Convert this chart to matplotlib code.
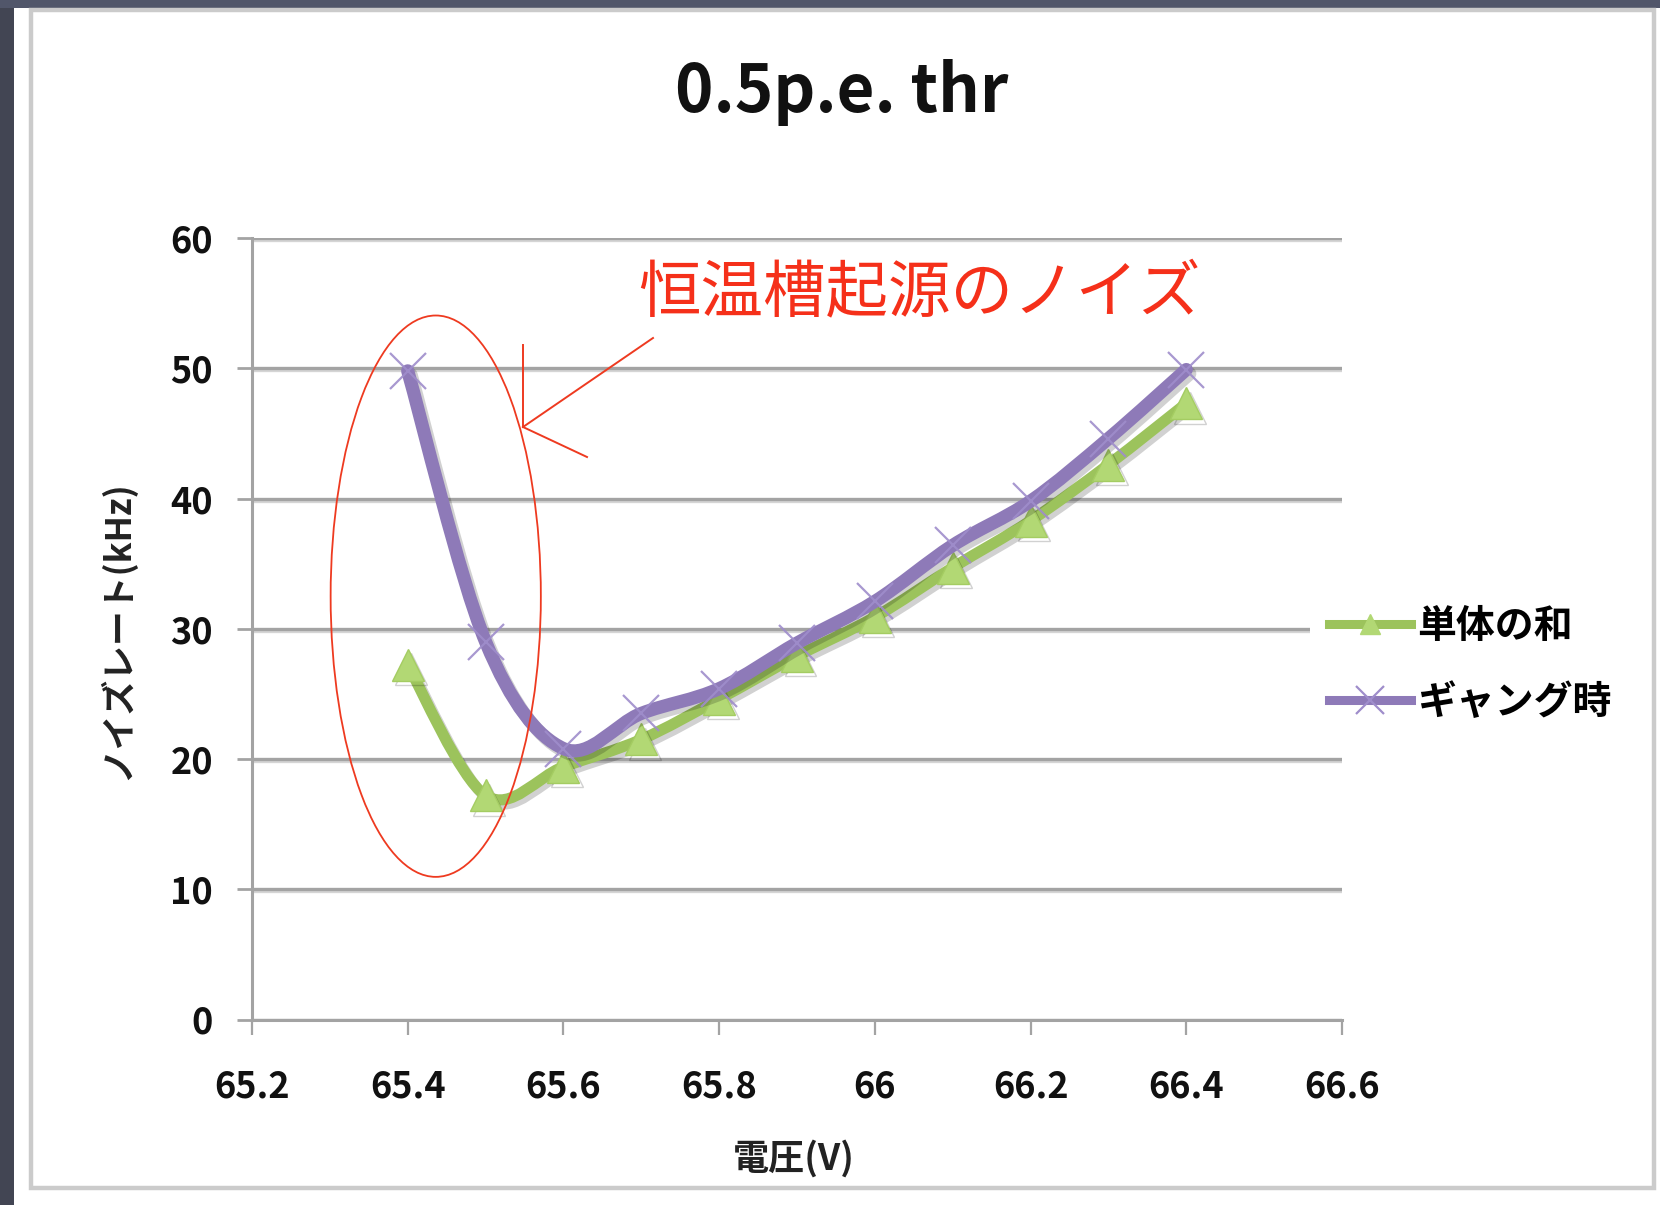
import numpy as np
import matplotlib
matplotlib.use("Agg")
import matplotlib.pyplot as plt
from matplotlib.path import Path
from matplotlib.patches import PathPatch, Ellipse, Rectangle
from matplotlib.lines import Line2D
import matplotlib.patheffects as pe

plt.rcParams['font.family'] = ['Noto Sans CJK JP', 'DejaVu Sans']

# ---------------- data ----------------
voltage = [65.4, 65.5, 65.6, 65.7, 65.8, 65.9, 66.0, 66.1, 66.2, 66.3, 66.4]
rate_sum = [27.2, 17.2, 19.4, 21.5, 24.6, 27.9, 30.9, 34.7, 38.3, 42.6, 47.3]
rate_gang = [49.8, 29.0, 20.8, 23.5, 25.4, 28.9, 32.1, 36.4, 39.8, 44.6, 49.9]
series_names = ['単体の和', 'ギャング時']
x_ticks = [65.2, 65.4, 65.6, 65.8, 66.0, 66.2, 66.4, 66.6]
x_tick_labels = ['65.2', '65.4', '65.6', '65.8', '66', '66.2', '66.4', '66.6']
y_ticks = [0, 10, 20, 30, 40, 50, 60]
y_tick_labels = ['0', '10', '20', '30', '40', '50', '60']
title = '0.5p.e. thr'
x_label = '電圧(V)'
y_label = 'ノイズレート(kHz)'
note = '恒温槽起源のノイズ'

W, H = 1660, 1205
fig = plt.figure(figsize=(W / 100, H / 100), dpi=100)
fig.patch.set_facecolor('white')


def fx(px):
    return px / W


def fy(py):
    return 1 - py / H


# slide background strips and chart frame
fig.patches.append(Rectangle((0, 0), fx(14), 1, transform=fig.transFigure,
                             facecolor='#424553', edgecolor='none', zorder=-3))
fig.patches.append(Rectangle((0, fy(8)), 1, 1 - fy(8), transform=fig.transFigure,
                             facecolor='#51566a', edgecolor='none', zorder=-3))
frame = Rectangle((fx(31), fy(1188)), fx(1654) - fx(31), fy(10) - fy(1188),
                  transform=fig.transFigure, facecolor='white',
                  edgecolor='#cbcbcb', linewidth=3.2, zorder=-2)
fig.patches.append(frame)

ax = fig.add_axes([fx(252), fy(1019.5), fx(1342) - fx(252), fy(238) - fy(1019.5)])
ax.set_zorder(1)
ax.set_facecolor('none')
ax.set_xlim(x_ticks[0], x_ticks[-1])
ax.set_ylim(y_ticks[0], y_ticks[-1])

grid_col = '#a3a3a3'
for s in ['top', 'right']:
    ax.spines[s].set_visible(False)
for s in ['left', 'bottom']:
    ax.spines[s].set_color(grid_col)
    ax.spines[s].set_linewidth(2.2)
ax.set_xticks(x_ticks)
ax.set_xticklabels(x_tick_labels)
ax.set_yticks(y_ticks)
ax.set_yticklabels(y_tick_labels)
ax.tick_params(axis='y', direction='out', length=11, width=2.0, color=grid_col,
               pad=17, labelsize=26)
ax.tick_params(axis='x', direction='out', length=11, width=1.6, color=grid_col,
               pad=24, labelsize=26)
for lab in ax.get_xticklabels() + ax.get_yticklabels():
    lab.set_fontweight('bold')
    lab.set_color('#111111')
ax.yaxis.grid(True, color=grid_col, linewidth=2.4)
for gl in ax.yaxis.get_gridlines():
    gl.set_path_effects([pe.SimpleLineShadow(offset=(0, -1.5), shadow_color='#888888', alpha=0.35),
                         pe.Normal()])
ax.set_axisbelow(True)


def smooth_path(xs, ys):
    pts = np.column_stack([xs, ys]).astype(float)
    n = len(pts)
    verts = [pts[0]]
    codes = [Path.MOVETO]
    for i in range(n - 1):
        p0 = pts[i - 1] if i > 0 else pts[i]
        p1 = pts[i]
        p2 = pts[i + 1]
        p3 = pts[i + 2] if i + 2 < n else pts[i + 1]
        c1 = p1 + (p2 - p0) / 6.0
        c2 = p2 - (p3 - p1) / 6.0
        verts += [c1, c2, p2]
        codes += [Path.CURVE4] * 3
    return Path(verts, codes)


green = '#9cc35c'
green_fill = '#b2d874'
purple = '#8e7ab8'
purple_mk = '#9f8dcb'

shadow = [pe.SimpleLineShadow(offset=(2.5, -3), shadow_color='#000000', alpha=0.18),
          pe.Normal()]

gpatch = PathPatch(smooth_path(voltage, rate_sum), facecolor='none', edgecolor=green,
                   linewidth=8, capstyle='round', joinstyle='round', zorder=3)
gpatch.set_path_effects(shadow)
ax.add_patch(gpatch)
ax.plot(voltage, rate_sum, linestyle='none', marker='^', markersize=23,
        markerfacecolor=green_fill, markeredgecolor='#a4cc62', markeredgewidth=1,
        zorder=4, path_effects=shadow)

ppatch = PathPatch(smooth_path(voltage, rate_gang), facecolor='none', edgecolor=purple,
                   linewidth=9.5, capstyle='round', joinstyle='round', zorder=5)
ppatch.set_path_effects(shadow)
ax.add_patch(ppatch)
ax.plot(voltage, rate_gang, linestyle='none', marker='x', markersize=26,
        markeredgecolor=purple_mk, markeredgewidth=1.6, zorder=6, alpha=0.9)

# legend
h1 = Line2D([], [], color=green, linewidth=6.5, marker='^', markersize=15,
            markerfacecolor=green_fill, markeredgecolor=green_fill)
h2 = Line2D([], [], color=purple, linewidth=6.5, marker='x', markersize=20,
            markeredgecolor=purple_mk, markeredgewidth=1.6)
leg = fig.legend([h1, h2], series_names, loc='center left',
                 bbox_to_anchor=(fx(1310), fy(664.5)), frameon=True,
                 facecolor='white', edgecolor='none', framealpha=1,
                 prop={'size': 28, 'weight': 'bold'}, handlelength=2.1,
                 handletextpad=0.15, labelspacing=0.95, borderpad=0.5,
                 borderaxespad=0, fancybox=False)
leg.set_zorder(10)

# titles and axis labels
fig.text(fx(842), fy(93), title, ha='center', va='center', fontsize=47,
         fontweight='bold', color='#111111')
fig.text(fx(794), fy(1159), x_label, ha='center', va='center', fontsize=26,
         fontweight='bold', color='#222222')
fig.text(fx(117), fy(630), y_label, ha='center', va='center', fontsize=25,
         fontweight='bold', rotation=90, color='#222222')

# annotation: ellipse, arrow and note
red = '#ee3a20'
ax.add_patch(Ellipse((65.436, 32.5), 0.27, 43.1, facecolor='none', edgecolor=red,
                     linewidth=1.3, zorder=7))
tip = (fx(523), fy(427))
arrow_lines = [
    ((fx(653), fy(338)), tip),
    ((fx(523), fy(345)), tip),
    ((fx(587), fy(457)), tip),
]
for a, b in arrow_lines:
    fig.add_artist(Line2D([a[0], b[0]], [a[1], b[1]], transform=fig.transFigure,
                          color=red, linewidth=1.4, zorder=8))
fig.text(fx(638), fy(293), note, ha='left', va='center', fontsize=45,
         color='#f5301a')

fig.savefig('out.png', dpi=100, facecolor=fig.get_facecolor())
